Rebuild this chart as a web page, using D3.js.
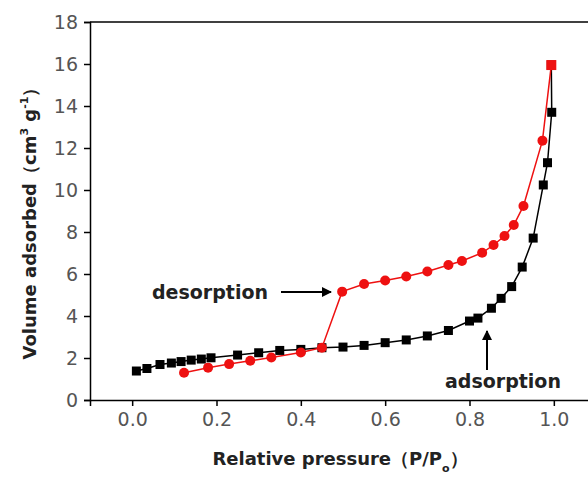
<!DOCTYPE html>
<html>
<head>
<meta charset="utf-8">
<script src="https://cdn.jsdelivr.net/npm/d3@7"></script>
<style>
  body { margin: 0; background: #fff; }
  text { font-family: "DejaVu Sans", Verdana, sans-serif; }
</style>
</head>
<body>
<div id="chart"></div>
<script>
// ---- data ----
const adsP = [0.01, 0.035, 0.066, 0.093, 0.116, 0.14, 0.164, 0.187, 0.25, 0.30, 0.35, 0.40, 0.45,
  0.50, 0.55, 0.60, 0.65, 0.70, 0.75, 0.80, 0.82, 0.852, 0.875, 0.90, 0.925, 0.951, 0.975, 0.985, 0.995, 0.994];
const adsV = [1.38, 1.50, 1.69, 1.76, 1.83, 1.90, 1.95, 2.01, 2.14, 2.25, 2.36, 2.41, 2.49,
  2.52, 2.60, 2.73, 2.86, 3.05, 3.31, 3.76, 3.90, 4.37, 4.84, 5.40, 6.33, 7.71, 10.24, 11.30, 13.70, 15.95];

const desP = [0.994, 0.973, 0.928, 0.905, 0.883, 0.857, 0.83, 0.782, 0.75, 0.70, 0.65, 0.60, 0.55,
  0.498, 0.45, 0.40, 0.33, 0.28, 0.23, 0.18, 0.123];
const desV = [15.95, 12.35, 9.24, 8.33, 7.81, 7.38, 7.01, 6.62, 6.43, 6.12, 5.88, 5.69, 5.52,
  5.16, 2.49, 2.26, 2.02, 1.87, 1.71, 1.54, 1.30];

const xTicks = [0.0, 0.2, 0.4, 0.6, 0.8, 1.0];
const yTicks = [0, 2, 4, 6, 8, 10, 12, 14, 16, 18];

// ---- setup ----
const width = 588, height = 480;
const svg = d3.select('#chart').append('svg')
  .attr('width', width).attr('height', height);

const x = d3.scaleLinear().domain([-0.1, 1.1]).range([90, 596]);
const y = d3.scaleLinear().domain([0, 18]).range([400, 22]);

// frame (top line; right side falls outside the picture)
svg.append('line').attr('x1', x(-0.1)).attr('x2', x(1.1))
  .attr('y1', y(18)).attr('y2', y(18))
  .attr('stroke', '#000').attr('stroke-width', 1.5);
svg.append('line').attr('x1', x(1.1)).attr('x2', x(1.1))
  .attr('y1', y(18)).attr('y2', y(0))
  .attr('stroke', '#000').attr('stroke-width', 1.5);

// axes
const xAxis = svg.append('g').attr('transform', `translate(0,${y(0)})`)
  .call(d3.axisBottom(x).tickValues(xTicks).tickFormat(d3.format('.1f')).tickSize(6).tickPadding(7));
const yAxis = svg.append('g').attr('transform', `translate(${x(-0.1)},0)`)
  .call(d3.axisLeft(y).tickValues(yTicks).tickSize(6).tickPadding(6));

[xAxis, yAxis].forEach(g => {
  g.select('.domain').attr('stroke', '#000').attr('stroke-width', 1.5);
  g.selectAll('.tick line').attr('stroke', '#000').attr('stroke-width', 1.5);
  g.selectAll('.tick text').attr('fill', '#555').style('font-size', '19px')
    .style('font-family', '"DejaVu Sans", Verdana, sans-serif');
});

// axis titles
svg.append('text')
  .attr('transform', `translate(36,219) rotate(-90)`)
  .attr('text-anchor', 'middle')
  .style('font-size', '18px').style('font-weight', 'bold').attr('fill', '#222')
  .html('Volume adsorbed（cm<tspan dy="-8" font-size="11">3</tspan><tspan dy="8"> g</tspan><tspan dy="-8" font-size="11">-1</tspan><tspan dy="8">）</tspan>');

svg.append('text')
  .attr('x', 340).attr('y', 465)
  .attr('text-anchor', 'middle')
  .style('font-size', '18px').style('font-weight', 'bold').attr('fill', '#222')
  .html('Relative pressure（P/P<tspan dy="7" font-size="11">o</tspan><tspan dy="-7">）</tspan>');

// series
const line = d3.line().x(d => x(d[0])).y(d => y(d[1]));
const ads = adsP.map((p, i) => [p, adsV[i]]);
const des = desP.map((p, i) => [p, desV[i]]);

svg.append('path').datum(ads).attr('d', line)
  .attr('fill', 'none').attr('stroke', '#000').attr('stroke-width', 1.5);
svg.append('path').datum(des).attr('d', line)
  .attr('fill', 'none').attr('stroke', '#ee1111').attr('stroke-width', 1.5);

const sq = 9;
svg.append('g').selectAll('rect').data(ads).join('rect')
  .attr('x', d => x(d[0]) - sq / 2).attr('y', d => y(d[1]) - sq / 2)
  .attr('width', sq).attr('height', sq).attr('fill', '#000');

svg.append('g').selectAll('circle').data(des.slice(1)).join('circle')
  .attr('cx', d => x(d[0])).attr('cy', d => y(d[1])).attr('r', 5)
  .attr('fill', '#ee1111');
// shared top point is shown as a red square
svg.append('rect').datum(des[0])
  .attr('x', d => x(d[0]) - sq / 2 - 0.5).attr('y', d => y(d[1]) - sq / 2 - 0.5)
  .attr('width', sq + 1).attr('height', sq + 1).attr('fill', '#ee1111');

// annotations
svg.append('defs').append('marker')
  .attr('id', 'arr').attr('viewBox', '0 0 10 10').attr('refX', 9).attr('refY', 5)
  .attr('markerWidth', 5).attr('markerHeight', 5).attr('orient', 'auto')
  .append('path').attr('d', 'M0,0 L10,5 L0,10 z').attr('fill', '#000');

svg.append('text').attr('x', 152).attr('y', 299)
  .style('font-size', '19px').style('font-weight', 'bold').attr('fill', '#222')
  .text('desorption');
svg.append('line').attr('x1', 281).attr('y1', 292).attr('x2', 331).attr('y2', 292)
  .attr('stroke', '#000').attr('stroke-width', 2).attr('marker-end', 'url(#arr)');

svg.append('text').attr('x', 445).attr('y', 388)
  .style('font-size', '19px').style('font-weight', 'bold').attr('fill', '#222')
  .text('adsorption');
svg.append('line').attr('x1', 487).attr('y1', 370).attr('x2', 487).attr('y2', 331)
  .attr('stroke', '#000').attr('stroke-width', 2).attr('marker-end', 'url(#arr)');
</script>
</body>
</html>
